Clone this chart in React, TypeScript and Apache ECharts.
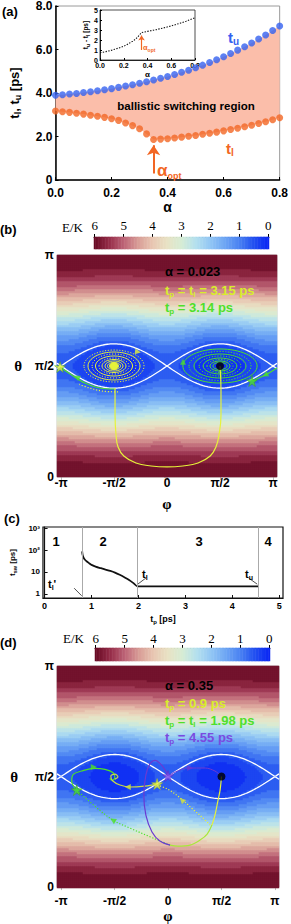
import React, { useEffect, useRef } from "react";
import * as echarts from "echarts";

const PI = Math.PI;
const SANS = '"Liberation Sans", Arial, Helvetica, sans-serif';
const SERIF = '"Liberation Serif", "Times New Roman", serif';

// ---------- panel (a) ----------
const ALPHA = [0, 0.025, 0.05, 0.075, 0.1, 0.125, 0.15, 0.175, 0.2, 0.225, 0.25, 0.275, 0.3, 0.325, 0.35, 0.375, 0.4, 0.425, 0.45, 0.475, 0.5, 0.525, 0.55, 0.575, 0.6, 0.625, 0.65, 0.675, 0.7, 0.725, 0.75, 0.775, 0.8];
const T_U = [3.9, 3.92, 3.95, 3.98, 4.02, 4.06, 4.1, 4.15, 4.2, 4.26, 4.32, 4.38, 4.45, 4.52, 4.6, 4.68, 4.76, 4.85, 4.95, 5.05, 5.16, 5.28, 5.4, 5.53, 5.67, 5.82, 5.97, 6.13, 6.3, 6.48, 6.67, 6.87, 7.08];
const T_L = [3.17, 3.14, 3.11, 3.07, 3.03, 2.98, 2.93, 2.88, 2.82, 2.74, 2.62, 2.5, 2.36, 2.12, 1.86, 1.88, 1.9, 1.93, 1.97, 2.01, 2.05, 2.1, 2.15, 2.2, 2.26, 2.32, 2.38, 2.45, 2.52, 2.6, 2.68, 2.77, 2.86];
const ALPHA_OPT = 0.35;

// ---------- panels (b) and (d): energy landscape ----------
const E_HARD = 6; // E/K at theta = 0, pi
const E_SADDLE = 0.57; // E/K at the saddle (phi = 0, theta = pi/2)
const PHI_TICKS = [-PI, -PI / 2, 0, PI / 2, PI];
const PHI_LABELS = ["-π", "-π/2", "0", "π/2", "π"];
const THETA_TICKS = [0, PI / 2, PI];
const THETA_LABELS = ["0", "π/2", "π"];
const PHI_MIN = -3.26;
const PHI_MAX = 3.26;
const PALETTE = ["#0a26f4", "#2250f0", "#4a82f2", "#6ea6f4", "#92c6f4", "#b4e0ee", "#d6ecd4", "#e8e2c4", "#e8c6b2", "#d89c96", "#bc6276", "#952c48", "#680a24"];

// (b) alpha = 0.023 trajectories [phi, theta]
const B_YELLOW_PULSE = [[1.571, 1.571], [1.6, 1.231], [1.6, 0.877], [1.54, 0.594], [1.45, 0.425], [1.28, 0.297], [0.92, 0.198], [0.47, 0.156], [0.0, 0.142], [-0.47, 0.156], [-0.92, 0.198], [-1.28, 0.297], [-1.45, 0.425], [-1.51, 0.594], [-1.54, 0.877], [-1.54, 1.16], [-1.54, 1.26]];
const B_GREEN_LEFT = [[-1.54, 1.245], [-1.99, 1.259], [-2.43, 1.33], [-2.82, 1.443], [-3.17, 1.557]];
const B_YELLOW_DOTS = [[-1.45, 1.205], [-1.9, 1.215], [-2.3, 1.26], [-2.6, 1.31]];
const B_GREEN_RIGHT = [[3.26, 1.542], [2.91, 1.443], [2.52, 1.358]];
const B_YELLOW_RINGS_SOLID = [[0.77, 0.198], [0.55, 0.142], [0.356, 0.092], [0.267, 0.071], [0.193, 0.051]];
const B_YELLOW_RINGS_DOTTED = [[0.89, 0.226], [0.65, 0.17], [0.445, 0.113]];
const B_YELLOW_CORE = [[0.134, 0.05]];
const B_GREEN_RINGS_SOLID = [[1.1, 0.241], [0.77, 0.17], [0.5, 0.113], [0.297, 0.071], [0.208, 0.05]];
const B_GREEN_RINGS_DOTTED = [[0.92, 0.205], [0.62, 0.142], [0.386, 0.092]];
const B_STARS_YELLOW = [[-3.17, 1.557]];
const B_STARS_GREEN = [[2.52, 1.358]];
const B_ARROWS_YELLOW = [[-0.86, 1.77, -100]];
const B_ARROWS_GREEN = [[0.475, 1.63, 0], [-2.67, 1.415, 60], [2.91, 1.443, 120]];

// (d) alpha = 0.35 trajectories [phi, theta]
const D_YELLOW_PULSE = [[1.571, 1.571], [1.53, 1.379], [1.47, 1.237], [1.38, 1.023], [1.29, 0.881]];
const D_GREEN_PULSE = [[1.29, 0.881], [1.15, 0.753], [0.94, 0.668], [0.65, 0.597], [0.29, 0.583], [0.06, 0.597]];
const D_PURPLE_PULSE = [[0.06, 0.597], [-0.24, 0.654], [-0.47, 0.782], [-0.65, 1.023], [-0.71, 1.308], [-0.65, 1.592], [-0.53, 1.75], [-0.38, 1.8], [-0.22, 1.75], [-0.08, 1.66], [0, 1.578]];
const D_PURPLE_RELAX = [[0, 1.578], [0.21, 1.635], [0.59, 1.692], [1.09, 1.692], [1.38, 1.649], [1.53, 1.59]];
const D_YELLOW_RELAX_DOTTED = [[1.24, 0.88], [1.03, 0.98], [0.7, 1.12], [0.35, 1.27], [0.0, 1.39], [-0.32, 1.45]];
const D_YELLOW_RELAX = [[-0.32, 1.464], [-0.68, 1.436], [-1.12, 1.422], [-1.41, 1.45], [-1.62, 1.507], [-1.68, 1.578], [-1.56, 1.606], [-1.47, 1.564], [-1.56, 1.535]];
const D_GREEN_RELAX_DOTTED = [[0.06, 0.597], [-0.44, 0.697], [-1.12, 0.839], [-1.62, 0.952], [-2.15, 1.151], [-2.68, 1.379]];
const D_GREEN_RELAX = [[-2.69, 1.379], [-2.83, 1.507], [-2.78, 1.602], [-2.54, 1.649], [-2.17, 1.687], [-1.85, 1.673], [-1.61, 1.625], [-1.56, 1.554], [-1.64, 1.517], [-1.71, 1.545]];
const D_STARS_YELLOW = [[-0.32, 1.464]];
const D_STARS_GREEN = [[-2.68, 1.379]];
const D_STARS_PURPLE = [[0, 1.578]];
const D_ARROWS_YELLOW = [[-1.18, 1.422, 90], [0.41, 1.237, 45]];
const D_ARROWS_GREEN = [[-2.18, 1.706, -90], [-1.62, 0.952, 60]];
const D_ARROWS_PURPLE = [[0.65, 1.692, -90]];
const START = [[PI / 2, PI / 2]];

// ---------- panel (c) ----------
const TP = [0.8, 0.81, 0.83, 0.86, 0.9, 0.95, 1.0, 1.1, 1.2, 1.3, 1.4, 1.5, 1.6, 1.7, 1.8, 1.9, 1.98, 4.55];
const TSW = [88, 60, 45, 36, 30, 25, 21, 17, 14.8, 12.8, 11.1, 9.3, 7.4, 5.7, 4.3, 3.0, 2.2, 2.2];
const TP_L_PRIME = 0.8;
const TP_L = 1.98;
const TP_U = 4.55;
const TP_TICKS = [0, 1, 2, 3, 4, 5];
const TSW_TICKS = [1, 10, 100, 1000];
const TSW_LABELS = ["1", "10", "10²", "10³"];
const C_LEADER_LP = [[0.63, 1.8], [0.79, 0.81]];
const C_LEADER_L = [[2.17, 5.5], [1.99, 2.8]];
const C_LEADER_U = [[4.35, 5.2], [4.53, 2.76]];

const YELLOW = "#e6f23a";
const GREEN = "#4ee02a";
const PURPLE = "#6a3ad2";
const YELLOW_T = "#d8ee2a";
const PURPLE_T = "#7a4ae0";
const BLUE = "#3461f0";
const ORANGE = "#f26624";
const STAR = "path://M50,0 L61,35 L98,35 L68,57 L79,91 L50,70 L21,91 L32,57 L2,35 L39,35 Z";

function energy(phi: number, theta: number) {
  const c = Math.cos(theta);
  const s = Math.sin(theta);
  const cp = Math.cos(phi);
  return E_HARD * c * c + E_SADDLE * s * s * cp * cp;
}

function heatData(nx: number, ny: number) {
  const out: number[][] = [];
  for (let i = 0; i < nx; i++) {
    const phi = PHI_MIN + ((i + 0.5) * (PHI_MAX - PHI_MIN)) / nx;
    for (let j = 0; j < ny; j++) {
      const theta = ((j + 0.5) * PI) / ny;
      const e = energy(phi, theta);
      const q = Math.min(5.875, Math.floor(e / 0.25) * 0.25 + 0.125);
      out.push([i, j, q]);
    }
  }
  return out;
}

function separatrix(sign: number) {
  const pts: number[][] = [];
  const n = 140;
  for (let k = 0; k <= n; k++) {
    const phi = PHI_MIN + (k * (PHI_MAX - PHI_MIN)) / n;
    const sp = Math.sin(phi);
    const cp = Math.cos(phi);
    const r = Math.sqrt((E_SADDLE * sp * sp) / (E_HARD - E_SADDLE * cp * cp));
    pts.push([phi, PI / 2 + sign * Math.asin(r)]);
  }
  return pts;
}

const CB_N = 121;
const cbCats = Array.from({ length: CB_N }, (_, i) => (6 - i * 0.05).toFixed(2));
const cbData = Array.from({ length: CB_N }, (_, i) => [i, 0, 6 - i * 0.05]);

const rich = (main: number, sub: number, color: string, family = SANS) => ({
  m: { fontSize: main, fontWeight: "bold", fontFamily: family, color, fill: color, lineHeight: main + 3 },
  s: { fontSize: sub, fontWeight: "bold", fontFamily: family, color, fill: color, verticalAlign: "bottom", lineHeight: sub },
});

const gText = (x: number, y: number, text: string, r: any, align = "left") => ({
  type: "text",
  x,
  y,
  z: 100,
  silent: true,
  style: { text, rich: r, align, verticalAlign: "middle" },
});

const plain = (x: number, y: number, text: string, size: number, color = "#000", family = SANS, weight = "bold", align = "left") => ({
  type: "text",
  x,
  y,
  z: 100,
  silent: true,
  style: { text, fill: color, fontSize: size, fontFamily: family, fontWeight: weight, align, verticalAlign: "middle" },
});

function traj(points: number[][], color: string, g: number, dashed = false, width = 1.2, smooth: number | boolean = 0.35) {
  return {
    type: "line",
    xAxisIndex: g,
    yAxisIndex: g,
    data: points,
    showSymbol: false,
    symbol: "none",
    smooth,
    silent: true,
    z: 6,
    lineStyle: { color, width, type: dashed ? [1.2, 1.8] : "solid" },
  };
}

function rings(list: number[][], center: number[], color: string, g: number, dashed: boolean, fill = false) {
  return {
    type: "custom",
    xAxisIndex: g,
    yAxisIndex: g,
    silent: true,
    z: 5,
    data: list.map((r) => [center[0], center[1], r[0], r[1]]),
    renderItem: (_p: any, api: any) => {
      const c = api.coord([api.value(0), api.value(1)]);
      const s = api.size([api.value(2), api.value(3)]);
      return {
        type: "ellipse",
        shape: { cx: c[0], cy: c[1], rx: s[0], ry: s[1] },
        style: { fill: fill ? color : "none", stroke: color, lineWidth: 1, lineDash: dashed ? [1.2, 1.6] : null },
      };
    },
  };
}

function stars(pts: number[][], color: string, g: number, border = "#3aa020") {
  return {
    type: "scatter",
    xAxisIndex: g,
    yAxisIndex: g,
    data: pts,
    symbol: STAR,
    symbolSize: 11,
    silent: true,
    z: 8,
    itemStyle: { color, borderColor: border, borderWidth: 0.6 },
  };
}

function arrows(pts: number[][], color: string, g: number) {
  return {
    type: "scatter",
    xAxisIndex: g,
    yAxisIndex: g,
    data: pts.map((p) => ({ value: [p[0], p[1]], symbolRotate: p[2] })),
    symbol: "triangle",
    symbolSize: [6, 6],
    silent: true,
    z: 8,
    itemStyle: { color },
  };
}

function phiAxis(g: number, margin: number, nameGap: number) {
  return {
    gridIndex: g,
    type: "value",
    min: PHI_MIN,
    max: PHI_MAX,
    splitLine: { show: false },
    axisLine: { show: false },
    axisTick: { show: true, customValues: PHI_TICKS, length: 3, lineStyle: { color: "#bbb" } },
    axisLabel: {
      customValues: PHI_TICKS,
      formatter: (v: number) => {
        const k = PHI_TICKS.findIndex((t) => Math.abs(t - v) < 1e-6);
        return k >= 0 ? PHI_LABELS[k] : "";
      },
      fontFamily: SANS,
      fontWeight: "bold",
      fontSize: 12,
      color: "#000",
      margin,
    },
    name: "φ",
    nameLocation: "middle",
    nameGap,
    nameTextStyle: { fontFamily: SERIF, fontWeight: "bold", fontSize: 15, color: "#000" },
  };
}

function thetaAxis(g: number, nameGap: number) {
  return {
    gridIndex: g,
    type: "value",
    min: 0,
    max: PI,
    splitLine: { show: false },
    axisLine: { show: false },
    axisTick: { show: true, customValues: THETA_TICKS, length: 3, lineStyle: { color: "#bbb" } },
    axisLabel: {
      customValues: THETA_TICKS,
      formatter: (v: number) => {
        const k = THETA_TICKS.findIndex((t) => Math.abs(t - v) < 1e-6);
        return k >= 0 ? THETA_LABELS[k] : "";
      },
      fontFamily: SANS,
      fontWeight: "bold",
      fontSize: 12,
      color: "#000",
      margin: 3,
    },
    name: "θ",
    nameLocation: "middle",
    nameRotate: 0,
    nameGap,
    nameTextStyle: { fontFamily: SERIF, fontWeight: "bold", fontSize: 15, color: "#000" },
  };
}

function cbAxis(g: number, margin: number) {
  return {
    gridIndex: g,
    type: "category",
    data: cbCats,
    position: "top",
    axisLine: { show: true, lineStyle: { color: "#000", width: 0.8 } },
    axisTick: { show: true, interval: (i: number) => i % 20 === 0, alignWithLabel: true, length: 3, lineStyle: { color: "#000" } },
    axisLabel: {
      interval: (i: number) => i % 20 === 0,
      formatter: (v: string) => String(Math.round(parseFloat(v))),
      fontFamily: SERIF,
      fontSize: 13,
      color: "#000",
      margin,
    },
  };
}

const hiddenCat = (g: number, n: number) => ({
  gridIndex: g,
  type: "category",
  data: Array.from({ length: n }, (_, i) => i),
  show: false,
});

function buildOption() {
  const INSET = ALPHA.map((a, i) => [a, +(T_U[i] - T_L[i]).toFixed(3)]);
  const boldLab = (size: number) => ({ fontFamily: SANS, fontWeight: "bold", fontSize: size, color: "#000" });

  const series: any[] = [
    // 0: ballistic switching region
    {
      type: "custom",
      xAxisIndex: 0,
      yAxisIndex: 0,
      silent: true,
      z: 1,
      data: [[0, 0]],
      renderItem: (_p: any, api: any) => {
        const pts: number[][] = [];
        for (let i = 0; i < ALPHA.length; i++) pts.push(api.coord([ALPHA[i], T_U[i]]));
        for (let i = ALPHA.length - 1; i >= 0; i--) pts.push(api.coord([ALPHA[i], T_L[i]]));
        return { type: "polygon", shape: { points: pts }, style: { fill: "#fbbeaa", stroke: "none" } };
      },
    },
    // 1: t_u
    { type: "scatter", xAxisIndex: 0, yAxisIndex: 0, data: ALPHA.map((a, i) => [a, T_U[i]]), symbolSize: 7, itemStyle: { color: BLUE }, z: 3, silent: true },
    // 2: t_l
    {
      type: "scatter",
      xAxisIndex: 0,
      yAxisIndex: 0,
      data: ALPHA.map((a, i) => [a, T_L[i]]),
      symbolSize: 7,
      itemStyle: { color: ORANGE },
      z: 3,
      silent: true,
      markLine: {
        silent: true,
        symbol: ["none", "arrow"],
        symbolSize: 10,
        label: { show: false },
        lineStyle: { color: ORANGE, width: 2, type: "solid" },
        data: [[{ coord: [ALPHA_OPT, 0.3] }, { coord: [ALPHA_OPT, 1.6] }]],
      },
    },
    // 3: inset
    {
      type: "line",
      xAxisIndex: 1,
      yAxisIndex: 1,
      data: INSET,
      showSymbol: false,
      symbol: "none",
      silent: true,
      z: 4,
      lineStyle: { color: "#111", width: 1.1, type: [1.4, 1.4] },
      markLine: {
        silent: true,
        symbol: ["none", "arrow"],
        symbolSize: 5,
        label: { show: false },
        lineStyle: { color: ORANGE, width: 1.2, type: "solid" },
        data: [[{ coord: [ALPHA_OPT, 1.0] }, { coord: [ALPHA_OPT, 2.45] }]],
      },
    },
    // 4..7: colorbars and landscapes
    { type: "heatmap", xAxisIndex: 2, yAxisIndex: 2, data: cbData, progressive: 0, silent: true, z: 2 },
    { type: "heatmap", xAxisIndex: 3, yAxisIndex: 3, data: heatData(110, 111), progressive: 0, silent: true, z: 1 },
    { type: "heatmap", xAxisIndex: 6, yAxisIndex: 6, data: cbData, progressive: 0, silent: true, z: 2 },
    { type: "heatmap", xAxisIndex: 7, yAxisIndex: 7, data: heatData(111, 111), progressive: 0, silent: true, z: 1 },
  ];

  // (b) overlay, grid 4
  series.push(traj(separatrix(1), "#ffffff", 4, false, 1.3, false));
  series.push(traj(separatrix(-1), "#ffffff", 4, false, 1.3, false));
  series.push(rings(B_GREEN_RINGS_SOLID, [PI / 2, PI / 2], GREEN, 4, false));
  series.push(rings(B_GREEN_RINGS_DOTTED, [PI / 2, PI / 2], GREEN, 4, true));
  series.push(rings(B_YELLOW_RINGS_SOLID, [-PI / 2, PI / 2], YELLOW, 4, false));
  series.push(rings(B_YELLOW_RINGS_DOTTED, [-PI / 2, PI / 2], YELLOW, 4, true));
  series.push(rings(B_YELLOW_CORE, [-PI / 2, PI / 2], YELLOW, 4, false, true));
  series.push(traj(B_GREEN_LEFT, GREEN, 4));
  series.push(traj(B_GREEN_RIGHT, GREEN, 4));
  series.push(traj(B_YELLOW_DOTS, YELLOW, 4, true));
  series.push(traj(B_YELLOW_PULSE, YELLOW, 4, false, 1.2, 0.45));
  series.push(stars(B_STARS_YELLOW, YELLOW, 4));
  series.push(stars(B_STARS_GREEN, GREEN, 4));
  series.push(arrows(B_ARROWS_YELLOW, YELLOW, 4));
  series.push(arrows(B_ARROWS_GREEN, GREEN, 4));
  series.push({ type: "scatter", xAxisIndex: 4, yAxisIndex: 4, data: START, symbolSize: 8, itemStyle: { color: "#000" }, z: 9, silent: true });

  // (c), grid 5
  series.push({
    type: "line",
    xAxisIndex: 5,
    yAxisIndex: 5,
    data: TP.map((t, i) => [t, TSW[i]]),
    showSymbol: false,
    symbol: "none",
    smooth: 0.3,
    silent: true,
    z: 4,
    lineStyle: { color: "#111", width: 1.8 },
    markLine: {
      silent: true,
      symbol: ["none", "none"],
      label: { show: false },
      lineStyle: { color: "#aaaaaa", width: 1, type: "solid" },
      data: [{ xAxis: TP_L_PRIME }, { xAxis: TP_L }, { xAxis: TP_U }],
    },
  });
  series.push(traj(C_LEADER_LP, "#222", 5, false, 0.8, false));
  series.push(traj(C_LEADER_L, "#222", 5, false, 0.8, false));
  series.push(traj(C_LEADER_U, "#222", 5, false, 0.8, false));

  // (d) overlay, grid 8
  series.push(traj(separatrix(1), "#ffffff", 8, false, 1.3, false));
  series.push(traj(separatrix(-1), "#ffffff", 8, false, 1.3, false));
  series.push(traj(D_GREEN_RELAX_DOTTED, GREEN, 8, true));
  series.push(traj(D_YELLOW_RELAX_DOTTED, YELLOW, 8, true));
  series.push(traj(D_PURPLE_RELAX, PURPLE, 8, false, 1.0));
  series.push(traj(D_GREEN_RELAX, GREEN, 8));
  series.push(traj(D_YELLOW_RELAX, "#c8d84a", 8));
  series.push(traj(D_PURPLE_PULSE, PURPLE, 8));
  series.push(traj(D_GREEN_PULSE, "#a8e83a", 8));
  series.push(traj(D_YELLOW_PULSE, YELLOW, 8));
  series.push(stars(D_STARS_GREEN, GREEN, 8));
  series.push(stars(D_STARS_YELLOW, YELLOW, 8, "#a8c020"));
  series.push(stars(D_STARS_PURPLE, "#7a4ae8", 8, "#5a2ac0"));
  series.push(arrows(D_ARROWS_YELLOW, "#d4e43a", 8));
  series.push(arrows(D_ARROWS_GREEN, GREEN, 8));
  series.push(arrows(D_ARROWS_PURPLE, PURPLE, 8));
  series.push({ type: "scatter", xAxisIndex: 8, yAxisIndex: 8, data: START, symbolSize: 8, itemStyle: { color: "#000" }, z: 9, silent: true });

  const grid = [
    { left: 54, top: 6, width: 229, height: 174, show: true, borderColor: "#9a9a9a", borderWidth: 1 },
    { left: 100, top: 10, width: 95, height: 50, show: true, backgroundColor: "#ffffff", borderColor: "#222", borderWidth: 0.8 },
    { left: 94, top: 237, width: 175, height: 12 },
    { left: 57, top: 255, width: 220, height: 222 },
    { left: 57, top: 255, width: 220, height: 222, show: true, borderColor: "#cccccc", borderWidth: 1 },
    { left: 36, top: 527, width: 247, height: 71, show: true, borderColor: "#111", borderWidth: 1.2 },
    { left: 95, top: 648, width: 175, height: 13 },
    { left: 57, top: 666, width: 222, height: 222 },
    { left: 57, top: 666, width: 222, height: 222, show: true, borderColor: "#cccccc", borderWidth: 1 },
  ];

  const xAxis = [
    {
      gridIndex: 0,
      type: "value",
      min: 0,
      max: 0.8,
      interval: 0.2,
      splitLine: { show: false },
      axisLine: { lineStyle: { color: "#000", width: 1.5 } },
      axisTick: { inside: true, length: 3, lineStyle: { color: "#000" } },
      axisLabel: { ...boldLab(12), lineHeight: 12, formatter: (v: number) => v.toFixed(1), margin: 7 },
      name: "α",
      nameLocation: "middle",
      nameGap: 18,
      nameTextStyle: boldLab(14),
    },
    {
      gridIndex: 1,
      type: "value",
      min: 0,
      max: 0.8,
      interval: 0.2,
      splitLine: { show: false },
      axisLine: { lineStyle: { color: "#000", width: 0.8 } },
      axisTick: { inside: true, length: 2, lineStyle: { color: "#000" } },
      axisLabel: { ...boldLab(7), formatter: (v: number) => v.toFixed(1), margin: 2 },
      name: "α",
      nameLocation: "middle",
      nameGap: 10,
      nameTextStyle: boldLab(8),
    },
    cbAxis(2, 5),
    hiddenCat(3, 110),
    phiAxis(4, 0, 19),
    {
      gridIndex: 5,
      type: "value",
      min: -0.035,
      max: 5.08,
      splitLine: { show: false },
      axisLine: { lineStyle: { color: "#111", width: 1.2 } },
      axisTick: { show: true, inside: true, customValues: TP_TICKS, length: 3, lineStyle: { color: "#111" } },
      axisLabel: { ...boldLab(9), customValues: TP_TICKS, formatter: (v: number) => String(Math.round(v)), margin: 3 },
      name: "{m|t}{s|p}{m| [ps]}",
      nameLocation: "middle",
      nameGap: 15,
      nameTextStyle: { rich: rich(9, 6, "#000") },
    },
    cbAxis(6, 3),
    hiddenCat(7, 111),
    phiAxis(8, 8, 18),
  ];

  const yAxis = [
    {
      gridIndex: 0,
      type: "value",
      min: 0,
      max: 8,
      interval: 2,
      splitLine: { show: false },
      axisLine: { lineStyle: { color: "#000", width: 1.5 } },
      axisTick: { inside: true, length: 3, lineStyle: { color: "#000" } },
      axisLabel: { ...boldLab(12), lineHeight: 10, formatter: (v: number) => (v === 0 ? "0" : v.toFixed(1)), margin: 3 },
      name: "{m|t}{s|l}{m|, t}{s|u}{m| [ps]}",
      nameLocation: "middle",
      nameGap: 33,
      nameTextStyle: { rich: rich(13, 9, "#000") },
    },
    {
      gridIndex: 1,
      type: "value",
      min: 0,
      max: 5,
      interval: 1,
      splitLine: { show: false },
      axisLine: { lineStyle: { color: "#000", width: 0.8 } },
      axisTick: { inside: true, length: 2, lineStyle: { color: "#000" } },
      axisLabel: { ...boldLab(7), margin: 2 },
      name: "{m|t}{s|u}{m| - t}{s|l}{m| [ps]}",
      nameLocation: "middle",
      nameGap: 9,
      nameTextStyle: { rich: rich(6.5, 5, "#000") },
    },
    { gridIndex: 2, type: "category", data: ["0"], show: false },
    hiddenCat(3, 111),
    thetaAxis(4, 35),
    {
      gridIndex: 5,
      type: "log",
      logBase: 10,
      min: 0.64,
      max: 1140,
      splitLine: { show: false },
      axisLine: { lineStyle: { color: "#111", width: 1.2 } },
      axisTick: { show: true, inside: true, customValues: TSW_TICKS, length: 3, lineStyle: { color: "#111" } },
      axisLabel: {
        ...boldLab(8),
        customValues: TSW_TICKS,
        formatter: (v: number) => {
          const k = TSW_TICKS.findIndex((t) => Math.abs(t - v) / t < 1e-6);
          return k >= 0 ? TSW_LABELS[k] : "";
        },
        margin: 3,
      },
      name: "{m|t}{s|sw}{m| [ps]}",
      nameLocation: "middle",
      nameGap: 20,
      nameTextStyle: { rich: rich(8, 5.5, "#000") },
    },
    { gridIndex: 6, type: "category", data: ["0"], show: false },
    hiddenCat(7, 111),
    thetaAxis(8, 39),
  ];

  const graphic = [
    plain(2, 11, "(a)", 13),
    plain(0, 229, "(b)", 13),
    plain(4, 518, "(c)", 13),
    plain(0, 642, "(d)", 13),
    // (a)
    gText(228, 37, "{m|t}{s|u}", rich(15, 10, BLUE)),
    gText(226, 148, "{m|t}{s|l}", rich(15, 10, ORANGE)),
    plain(186, 106, "ballistic switching region", 11.5, "#000", SANS, "bold", "center"),
    gText(157, 170, "{m|α}{s|opt}", rich(17, 9, ORANGE)),
    gText(143, 47, "{m|α}{s|opt}", rich(7.5, 5, ORANGE)),
    // (b)
    plain(62, 227, "E/K", 13, "#000", SERIF, "normal"),
    gText(165, 271, "{m|α = 0.023}", rich(13, 9, "#000")),
    gText(165, 290, "{m|t}{s|p}{m| = t}{s|l}{m| = 3.15 ps}", rich(13, 8, YELLOW_T)),
    gText(165, 307, "{m|t}{s|p}{m| = 3.14 ps}", rich(13, 8, GREEN)),
    // (c)
    plain(56, 541, "1", 13, "#000", SANS, "bold", "center"),
    plain(103, 541, "2", 13, "#000", SANS, "bold", "center"),
    plain(199, 541, "3", 13, "#000", SANS, "bold", "center"),
    plain(268, 541, "4", 13, "#000", SANS, "bold", "center"),
    gText(48, 584, "{m|t}{s|l}{m|'}", rich(11, 7, "#000")),
    gText(142, 574, "{m|t}{s|l}", rich(11, 7, "#000")),
    gText(245, 574, "{m|t}{s|u}", rich(11, 7, "#000")),
    // (d)
    plain(63, 638, "E/K", 13, "#000", SERIF, "normal"),
    gText(165, 685, "{m|α = 0.35}", rich(13, 9, "#000")),
    gText(165, 703, "{m|t}{s|p}{m| = 0.9 ps}", rich(13, 8, YELLOW_T)),
    gText(165, 720, "{m|t}{s|p}{m| = t}{s|l}{m| = 1.98 ps}", rich(13, 8, GREEN)),
    gText(165, 737, "{m|t}{s|p}{m| = 4.55 ps}", rich(13, 8, PURPLE_T)),
  ];

  return {
    animation: false,
    backgroundColor: "#ffffff",
    grid,
    xAxis,
    yAxis,
    visualMap: {
      type: "continuous",
      show: false,
      seriesIndex: [4, 5, 6, 7],
      dimension: 2,
      min: 0,
      max: 6,
      inRange: { color: PALETTE },
    },
    graphic,
    series,
  };
}

export default function App() {
  const ref = useRef<HTMLDivElement>(null);
  useEffect(() => {
    if (!ref.current) return;
    const chart = echarts.init(ref.current, null, { renderer: "svg", width: 291, height: 924 });
    chart.setOption(buildOption() as any);
    return () => chart.dispose();
  }, []);
  return <div ref={ref} style={{ position: "absolute", left: 0, top: 0, width: 291, height: 924 }} />;
}
